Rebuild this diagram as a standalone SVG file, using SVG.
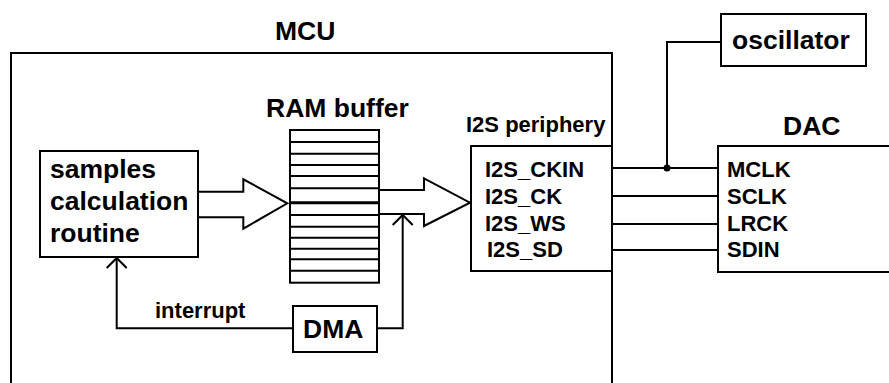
<svg xmlns="http://www.w3.org/2000/svg" width="889" height="383" viewBox="0 0 889 383">
<style>
.b{fill:#fff;stroke:#000;stroke-width:2}
.n{fill:none;stroke:#000;stroke-width:2}
.t{font-family:"Liberation Sans",Arial,sans-serif;font-weight:bold;fill:#000}
.L{font-size:26.5px}
.S{font-size:22px}
</style>
<rect width="889" height="383" fill="#fff"/>
<g id="mcu">
<path class="n" d="M11,383 V53 H612 V383"/>
<text class="t L" x="275" y="40">MCU</text>
</g>
<g id="samples">
<rect class="b" x="40" y="151" width="158" height="106"/>
<text class="t L" x="50" y="178">samples</text>
<text class="t L" x="50" y="210">calculation</text>
<text class="t L" x="50" y="242">routine</text>
</g>
<g id="ram">
<text class="t L" x="266" y="117">RAM buffer</text>
<rect class="b" x="290" y="130" width="89" height="152.7"/>
<path class="n" d="M290,142H379M290,153.7H379M290,165H379M290,176H379M290,188.3H379M290,215H379M290,226.7H379M290,237.7H379M290,248.7H379M290,259.3H379M290,270.7H379"/>
<path stroke="#000" stroke-width="3" d="M290,202.7H379"/>
</g>
<g id="dma">
<rect class="b" x="293" y="306" width="84" height="46"/>
<text class="t L" x="303" y="338">DMA</text>
</g>
<g id="i2s">
<text class="t S" x="466" y="132">I2S periphery</text>
<rect class="b" x="471" y="146" width="141" height="125"/>
<text class="t S" x="485" y="177">I2S_CKIN</text>
<text class="t S" x="485" y="204">I2S_CK</text>
<text class="t S" x="485" y="231">I2S_WS</text>
<text class="t S" x="487" y="257">I2S_SD</text>
</g>
<g id="oscillator">
<rect class="b" x="721" y="14" width="145" height="52"/>
<text class="t L" x="732" y="49">oscillator</text>
</g>
<g id="dac">
<text class="t L" x="783" y="135">DAC</text>
<path class="b" d="M890,146 H718 V272 H890"/>
<text class="t S" x="727" y="177">MCLK</text>
<text class="t S" x="727" y="204">SCLK</text>
<text class="t S" x="727" y="231">LRCK</text>
<text class="t S" x="727" y="257">SDIN</text>
</g>
<g id="connectors">
<path class="n" stroke-linejoin="miter" d="M198,191.7 H243.3 V179.3 L287.3,203.3 L243.3,228.7 V217.3 H198"/>
<path class="n" stroke-linejoin="miter" d="M379,190 H424 V178.3 L470,202.7 L424,226 V214 H379"/>
<path class="n" d="M377,328.3 H402.7 V216"/>
<path class="n" d="M392.7,225 L402.7,215 L412.7,225"/>
<path class="n" d="M293,328.3 H116.7 V258"/>
<path class="n" d="M106.7,268 L116.7,258 L126.7,268"/>
<text class="t S" x="155" y="318">interrupt</text>
<path class="n" d="M612,168H718M612,196H718M612,224H718M612,250H718"/>
<path class="n" d="M667,168 V42 H721"/>
<circle cx="667" cy="168" r="3.5" fill="#000"/>
</g>
</svg>
